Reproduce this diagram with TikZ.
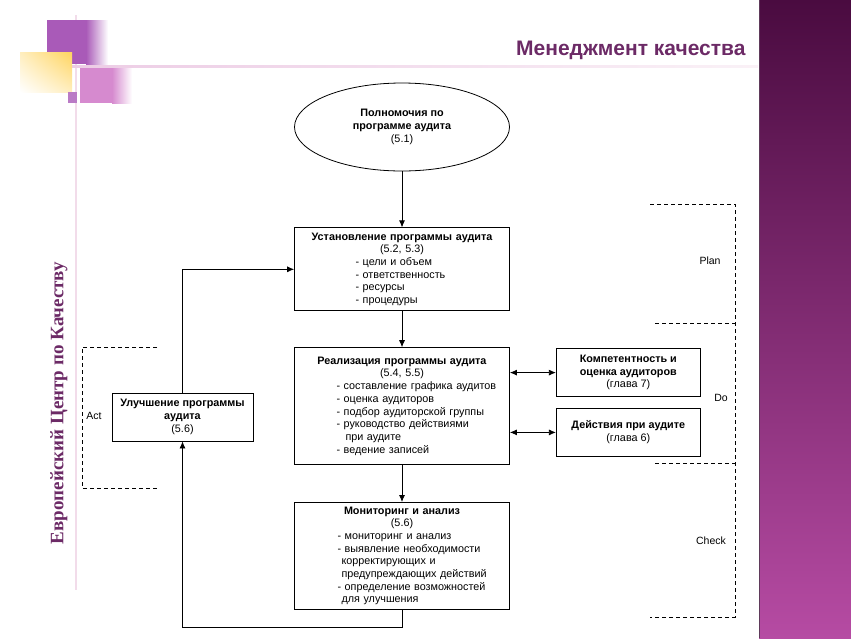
\documentclass[tikz,border=0pt]{standalone}
\usepackage{fontspec}
\setmainfont{Liberation Sans}
\newfontfamily\centrefont{Liberation Serif}
\usetikzlibrary{shapes.geometric, arrows.meta, positioning, calc, shadings}
\definecolor{qm_purple}{HTML}{6C2A66}
\definecolor{bar_top}{HTML}{4A0B40}
\definecolor{bar_bottom}{HTML}{B64BA3}
\definecolor{deco_violet}{HTML}{A95AB8}
\definecolor{deco_pink}{HTML}{D68ACF}
\definecolor{deco_yellow}{HTML}{FFD45E}
\definecolor{deco_line}{HTML}{F2DCEA}
\colorlet{qmpurple}{qm_purple}
\tikzset{
  stage/.style={rectangle,draw,line width=.8pt,minimum width=215pt,text width=209pt,inner sep=3pt,align=left,font=\fontsize{10.8}{12.7}\selectfont},
  authority/.style={ellipse,draw,line width=.8pt,minimum width=215pt,minimum height=88pt,align=center,font=\fontsize{10.8}{12.7}\selectfont},
  side/.style={rectangle,draw,line width=.8pt,minimum width=144pt,minimum height=48pt,align=center,font=\fontsize{10.8}{12.7}\selectfont},
  flow/.style={line width=.8pt,-{Latex[length=7pt,width=6pt]}},
  both/.style={line width=.8pt,{Latex[length=7pt,width=6pt]}-{Latex[length=7pt,width=6pt]}},
  phase/.style={line width=.6pt,dash pattern=on 4pt off 3pt},
  phaselabel/.style={font=\fontsize{10.5}{12}\selectfont},
}
\newcommand{\stagehead}[2]{{\centering\textbf{#1}\\#2\par}}

\begin{document}
\begin{tikzpicture}[x=1pt,y=-1pt]
 \useasboundingbox (0,0) rectangle (851,638);
 % slide decoration
 \shade[top color=bar_top,bottom color=bar_bottom] (759,0) rectangle (851,638);
 \draw[bar_top!60!gray,line width=1.2pt] (759.6,0) -- (759.6,638);
 \fill[deco_line] (75,15) rectangle (77,590);
 \shade[left color=deco_line!80!deco_pink,right color=deco_line!40] (60,65) rectangle (758,67.5);
 \fill[deco_violet] (47,20) rectangle (86,64);
 \shade[left color=deco_violet,right color=white] (86,20) rectangle (108,64);
 \shade[upper left=deco_yellow!40,upper right=deco_yellow,lower left=white,lower right=deco_yellow!40] (20,52) rectangle (72,92);
 \fill[deco_pink] (80,68) rectangle (112,103);
 \shade[left color=deco_pink,right color=white] (112,68) rectangle (132,103);
 \fill[deco_violet!80] (68,92) rectangle (77,103);
 \node[anchor=east,text=qmpurple,font=\bfseries\fontsize{21}{21}\selectfont] (title) at (749,50) {Менеджмент качества};
 \node[rotate=90,text=qmpurple,font=\centrefont\bfseries\fontsize{19}{19}\selectfont] (centre) at (59,403) {Европейский Центр по Качеству};

 % audit programme
 \node[authority] (auth) at (402,127) {\textbf{Полномочия по}\\\textbf{программе аудита}\\(5.1)};
 \node[stage,minimum height=83pt,below=56pt of auth] (setup) {\stagehead{Установление программы аудита}{(5.2, 5.3)}
  {\leftskip=58pt - цели и объем\\- ответственность\\- ресурсы\\- процедуры\par}};
 \node[stage,minimum height=117pt,below=36pt of setup] (real) {\stagehead{Реализация программы аудита}{(5.4, 5.5)}
  {\leftskip=39pt - составление графика аудитов\\- оценка аудиторов\\- подбор аудиторской группы\\- руководство действиями\\\hspace*{9pt}при аудите\\- ведение записей\par}};
 \node[stage,minimum height=107pt,below=37pt of real] (monitor) {\stagehead{Мониторинг и анализ}{(5.6)}
  {\leftskip=40pt - мониторинг и анализ\\- выявление необходимости\\\hspace*{4pt}корректирующих и\\\hspace*{4pt}предупреждающих действий\\- определение возможностей\\\hspace*{4pt}для улучшения\par}};
 \node[side,right=46pt of real.north east,anchor=north west,yshift=-1pt] (compet) {\textbf{Компетентность и}\\\textbf{оценка аудиторов}\\(глава 7)};
 \node[side,below=11pt of compet] (activity) {\textbf{Действия при аудите}\\(глава 6)};
 \node[side,minimum width=141pt] (improve) at (182.5,417) {\textbf{Улучшение программы}\\\textbf{аудита}\\(5.6)};

 \draw[flow] (auth) -- (setup);
 \draw[flow] (setup) -- (real);
 \draw[flow] (real) -- (monitor);
 \draw[both] (real.east |- compet) -- (compet);
 \draw[both] (real.east |- activity) -- (activity);
 \draw[flow] (monitor.south) -- ++(0,18) -| (improve.south);
 \draw[flow] (improve.north) |- (setup.west);

 % PDCA brackets
 \draw[phase] (650,204) -- (735,204) -- (735,617) -- (650,617);
 \draw[phase] (655,323) -- (735,323);
 \draw[phase] (655,463) -- (735,463);
 \draw[phase] (157,347) -- (82,347) -- (82,488) -- (157,488);
 \node[phaselabel] (plan) at (710,261) {Plan};
 \node[phaselabel] (do) at (721,398) {Do};
 \node[phaselabel] (check) at (711,541) {Check};
 \node[phaselabel] (act) at (94,416) {Act};
\end{tikzpicture}
\end{document}
